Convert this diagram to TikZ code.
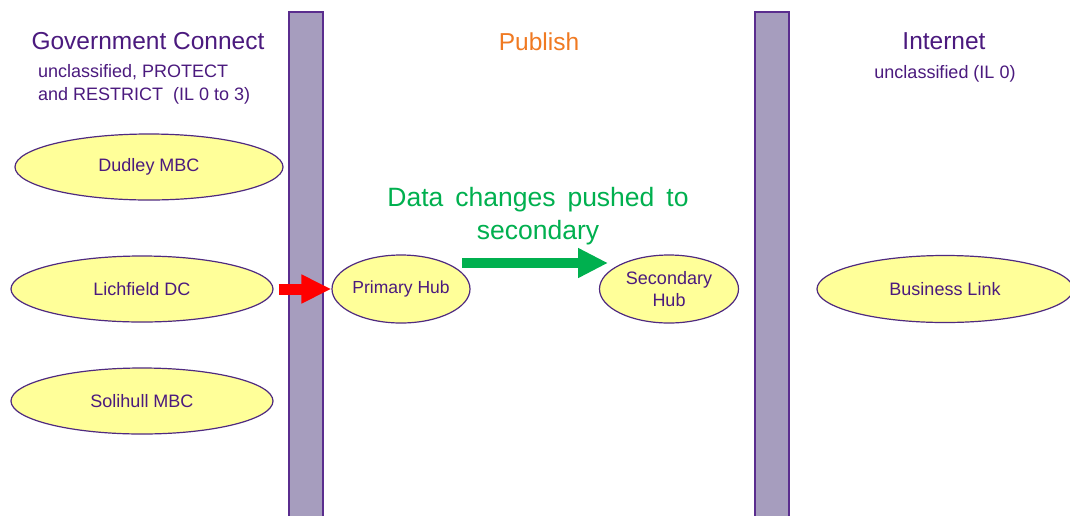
\documentclass[tikz,border=0pt]{standalone}
\usepackage{fontspec}
\setmainfont{Liberation Sans}
\usetikzlibrary{shapes.geometric,arrows.meta}
\definecolor{txtpurple}{HTML}{4B1A7E}
\definecolor{barfill}{HTML}{A69DBE}
\definecolor{barline}{HTML}{5A2D8E}
\definecolor{ellfill}{HTML}{FFFF99}
\definecolor{ellline}{HTML}{4F2A80}
\definecolor{pubor}{HTML}{F07A22}
\definecolor{grn}{HTML}{00B04F}
\definecolor{redarr}{HTML}{FF0000}
\tikzset{
  bar/.style={fill=barfill,draw=barline,line width=1.5pt},
  org/.style={ellipse,fill=ellfill,draw=ellline,line width=1.2pt,inner sep=0pt,
    text=txtpurple,font=\fontsize{18}{20}\selectfont,align=center},
  title/.style={text=txtpurple,font=\fontsize{24.5}{28}\selectfont,inner sep=0pt},
  sub/.style={text=txtpurple,font=\fontsize{18}{23}\selectfont,inner sep=0pt},
}
\begin{document}
\begin{tikzpicture}[x=1pt,y=-1pt]
\useasboundingbox (0,0) rectangle (1070,515);
\fill[white] (0,0) rectangle (1070,515);
% bars
\draw[bar] (289,12) rectangle (323,525);
\draw[bar] (755,12) rectangle (789,525);
% titles
\node[title] (gc) at (148,41) {Government Connect};
\node[title,text=pubor] (pub) at (539,42) {Publish};
\node[title] (inet) at (944,41) {Internet};
\node[sub,anchor=north west,align=left] (gcsub) at (38,64) {unclassified, PROTECT\\and RESTRICT\ \ (IL 0 to 3)};
\node[sub] (inetsub) at (945,74) {unclassified (IL 0)};
% ellipses
\node[org,minimum width=268pt,minimum height=66pt] (dud) at (149,167) {Dudley MBC};
\node[org,minimum width=262pt,minimum height=66pt] (lich) at (142,289) {Lichfield DC};
\node[org,minimum width=262pt,minimum height=66pt] (sol) at (142,401) {Solihull MBC};
\node[org,minimum width=138pt,minimum height=68pt,font=\fontsize{17.5}{20}\selectfont] (prim) at (401,289) {Primary Hub};
\node[org,minimum width=139pt,minimum height=68pt,font=\fontsize{18}{22}\selectfont] (sec) at (669,289) {Secondary\\Hub};
\node[org,minimum width=256pt,minimum height=67pt] (bl) at (945,289) {Business Link};
% green label
\node[text=grn,font=\fontsize{26.5}{33}\selectfont,align=center,inner sep=0pt] (lbl) at (538,216) {\spaceskip=12pt Data changes pushed to\\secondary};
% arrows
\draw[redarr,line width=11pt,-{Triangle[length=30pt,width=27pt]}] ([xshift=5pt]lich.east) -- (prim.west);
\coordinate (gs) at (462,263);
\coordinate (ge) at (608,263);
\draw[grn,line width=10pt,-{Triangle[length=30pt,width=28pt]}] (gs) -- (ge);
\end{tikzpicture}
\end{document}
